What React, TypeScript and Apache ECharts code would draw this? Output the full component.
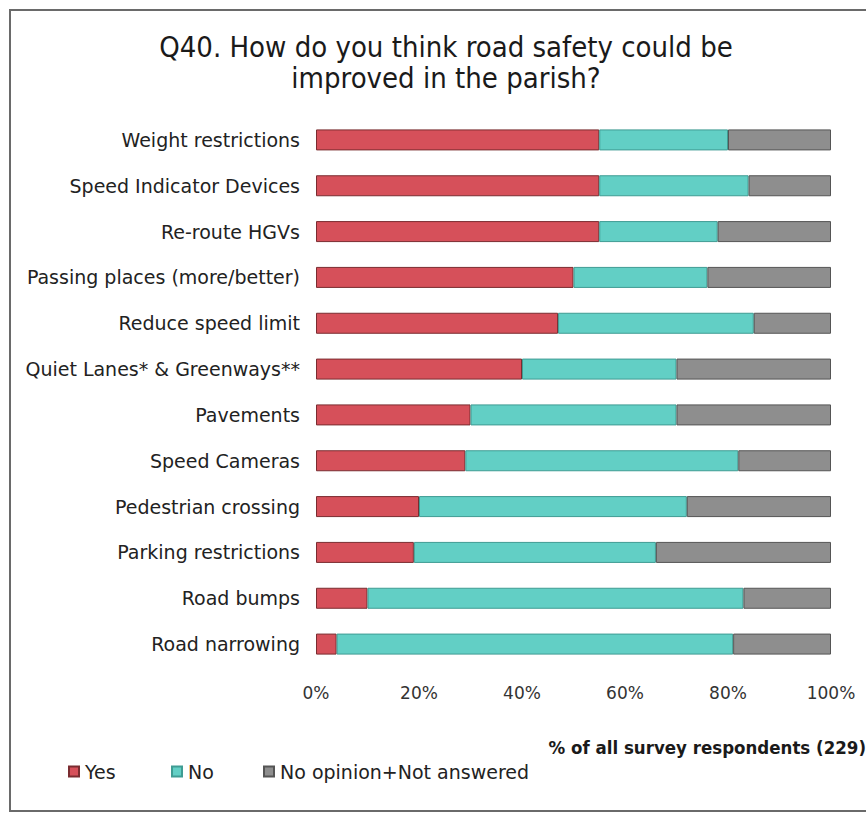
import React, { useEffect, useRef } from "react";
import * as echarts from "echarts";

const categories = [
  "Weight restrictions",
  "Speed Indicator Devices",
  "Re-route HGVs",
  "Passing places (more/better)",
  "Reduce speed limit",
  "Quiet Lanes* & Greenways**",
  "Pavements",
  "Speed Cameras",
  "Pedestrian crossing",
  "Parking restrictions",
  "Road bumps",
  "Road narrowing",
];
const yesValues = [55, 55, 55, 50, 47, 40, 30, 29, 20, 19, 10, 4];
const noValues = [25, 29, 23, 26, 38, 30, 40, 53, 52, 47, 73, 77];
const otherValues = [20, 16, 22, 24, 15, 30, 30, 18, 28, 34, 17, 19];
const seriesNames = ["Yes", "No", "No opinion+Not answered"];
const tickLabels = ["0%", "20%", "40%", "60%", "80%", "100%"];

export default function App() {
  const ref = useRef<HTMLDivElement>(null);
  useEffect(() => {
    if (!ref.current) return;
    const chart = echarts.init(ref.current, null, { renderer: "svg" });
    const font = "'DejaVu Sans', 'Liberation Sans', Arial, sans-serif";
    const narrow = "'DejaVu Sans Condensed', 'Liberation Sans', Arial, sans-serif";
    const colors = ["#d6505a", "#62cfc5", "#8e8e8e"];
    const borders = ["#7a2c30", "#3f9c93", "#555555"];
    const rev = (a: any[]) => a.slice().reverse();
    const data = [yesValues, noValues, otherValues];
    const legendLefts = [63, 166, 258];
    chart.setOption({
      animation: false,
      backgroundColor: "#ffffff",
      title: {
        text: "Q40. How do you think road safety could be\nimproved in the parish?",
        left: 441,
        top: 26,
        textAlign: "center",
        textStyle: {
          fontFamily: narrow,
          fontSize: 29,
          fontWeight: "normal",
          color: "#1a1a1a",
          lineHeight: 31,
        },
      },
      graphic: [
        {
          type: "rect",
          shape: { x: 10, y: 10, width: 900, height: 801 },
          style: { fill: "none", stroke: "#6a6a6a", lineWidth: 2 },
          silent: true,
        },
        {
          type: "text",
          right: 0,
          top: 738,
          style: {
            text: "% of all survey respondents (229)",
            fontFamily: narrow,
            fontSize: 18.5,
            fontWeight: "bold",
            fill: "#1a1a1a",
          },
        },
      ],
      legend: seriesNames.map((name, i) => ({
        data: [name],
        left: legendLefts[i],
        top: 757,
        itemWidth: 10,
        itemHeight: 10,
        icon: "rect",
        textStyle: {
          fontFamily: font,
          fontSize: 19,
          color: "#222",
          padding: [0, 0, 0, 1],
        },
      })),
      grid: { left: 316, right: 35, top: 117, bottom: 148, containLabel: false },
      xAxis: {
        type: "value",
        min: 0,
        max: 100,
        interval: 20,
        axisLabel: {
          formatter: (v: number) => tickLabels[Math.round(v / 20)],
          fontFamily: font,
          fontSize: 17,
          color: "#333",
          margin: 17,
        },
        splitLine: { show: false },
        axisLine: { show: false },
        axisTick: { show: false },
      },
      yAxis: {
        type: "category",
        data: rev(categories),
        axisLabel: {
          fontFamily: font,
          fontSize: 19,
          color: "#222",
          margin: 16,
        },
        axisLine: { show: false },
        axisTick: { show: false },
      },
      series: seriesNames.map((name, i) => ({
        name,
        type: "bar",
        stack: "total",
        barWidth: 21,
        data: rev(data[i]),
        itemStyle: { color: colors[i], borderColor: borders[i], borderWidth: 1 },
      })),
    });
    return () => chart.dispose();
  }, []);
  return (
    <div
      ref={ref}
      style={{ position: "fixed", left: 0, top: 0, width: 866, height: 815 }}
    />
  );
}
